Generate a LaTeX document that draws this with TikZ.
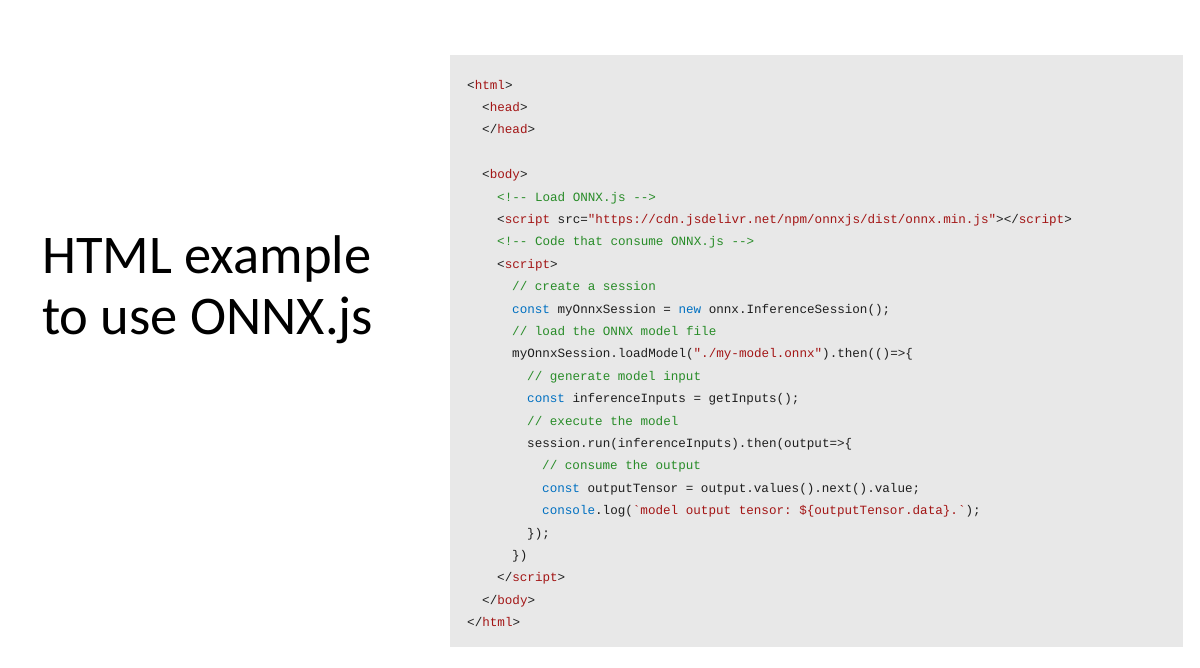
\documentclass[tikz,border=0pt]{standalone}
\usepackage{fontspec}
\setmainfont{Carlito}
\setmonofont{Liberation Mono}
\definecolor{bg}{RGB}{232,232,232}
\definecolor{tred}{RGB}{163,21,21}
\definecolor{tblue}{RGB}{0,112,193}
\definecolor{tgreen}{RGB}{40,140,40}
\definecolor{tdark}{RGB}{30,30,30}
\newcommand{\tg}[1]{\textcolor{tred}{#1}}
\newcommand{\cm}[1]{\textcolor{tgreen}{#1}}
\newcommand{\kw}[1]{\textcolor{tblue}{#1}}
\begin{document}
\begin{tikzpicture}[x=1pt,y=-1pt,
  code/.style={anchor=base west,inner sep=0pt,font=\ttfamily\fontsize{12.6}{14}\selectfont,text=tdark},
  title/.style={anchor=base west,inner sep=0pt,font=\fontsize{54.5}{58}\selectfont}]
\useasboundingbox[fill=white] (0,0) rectangle (1200,667);
\fill[bg] (450,55) rectangle (1183,647);
\node[title] (t1) at (42,273) {HTML example};
\node[title] (t2) at (42,334) {to use ONNX.js};
\def\cw{7.5}
\def\ls{22.4}
\newcommand{\codeline}[3]{\node[code] (l#1) at ({467+#2*\cw},{89+(#1-1)*\ls}) {#3};}
\codeline{1}{0}{<\tg{html}>}
\codeline{2}{2}{<\tg{head}>}
\codeline{3}{2}{</\tg{head}>}
\codeline{5}{2}{<\tg{body}>}
\codeline{6}{4}{\cm{<!-- Load ONNX.js -->}}
\codeline{7}{4}{<\tg{script} src=\tg{"https://cdn.jsdelivr.net/npm/onnxjs/dist/onnx.min.js"}></\tg{script}>}
\codeline{8}{4}{\cm{<!-- Code that consume ONNX.js -->}}
\codeline{9}{4}{<\tg{script}>}
\codeline{10}{6}{\cm{// create a session}}
\codeline{11}{6}{\kw{const} myOnnxSession = \kw{new} onnx.InferenceSession();}
\codeline{12}{6}{\cm{// load the ONNX model file}}
\codeline{13}{6}{myOnnxSession.loadModel(\tg{"./my-model.onnx"}).then(()=>\{}
\codeline{14}{8}{\cm{// generate model input}}
\codeline{15}{8}{\kw{const} inferenceInputs = getInputs();}
\codeline{16}{8}{\cm{// execute the model}}
\codeline{17}{8}{session.run(inferenceInputs).then(output=>\{}
\codeline{18}{10}{\cm{// consume the output}}
\codeline{19}{10}{\kw{const} outputTensor = output.values().next().value;}
\codeline{20}{10}{\kw{console}.log(\tg{`model output tensor: \$\{outputTensor.data\}.`});}
\codeline{21}{8}{\});}
\codeline{22}{6}{\})}
\codeline{23}{4}{</\tg{script}>}
\codeline{24}{2}{</\tg{body}>}
\codeline{25}{0}{</\tg{html}>}
\end{tikzpicture}
\end{document}
